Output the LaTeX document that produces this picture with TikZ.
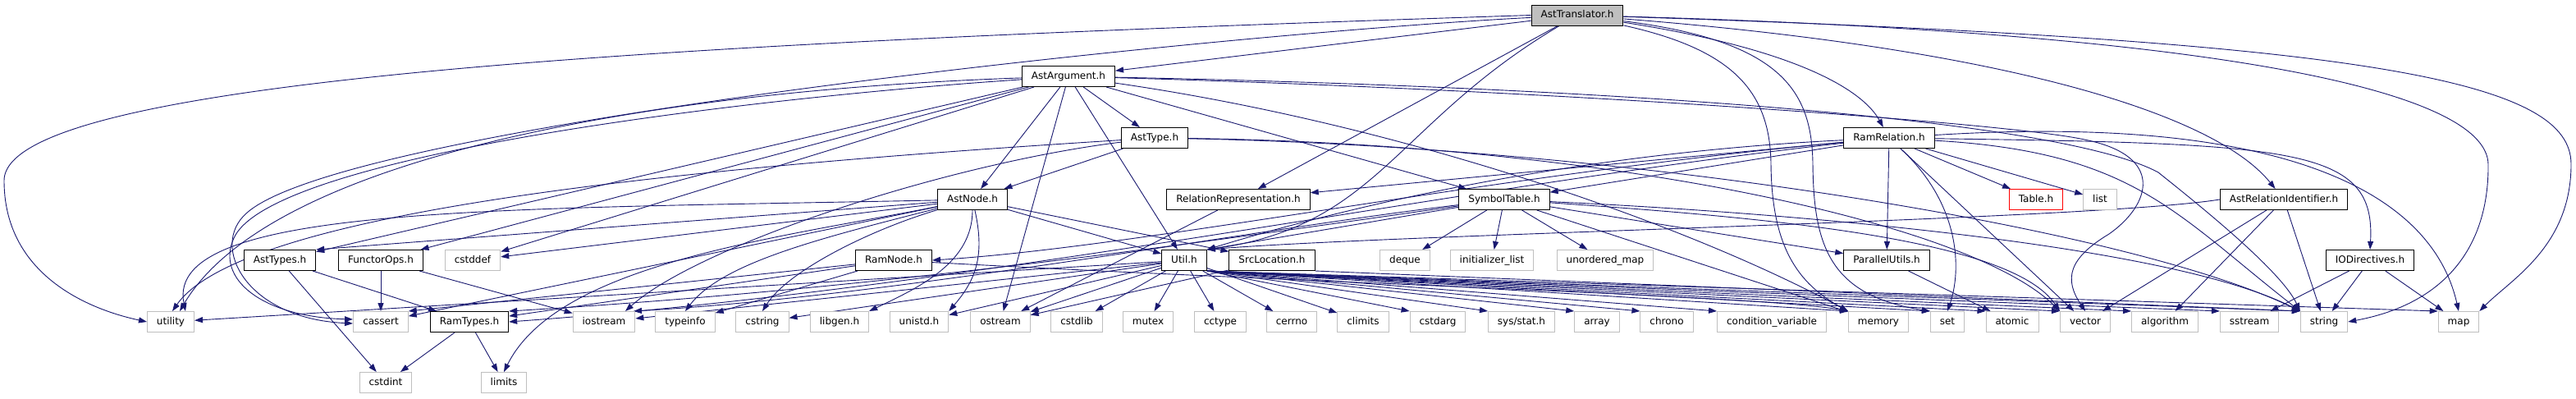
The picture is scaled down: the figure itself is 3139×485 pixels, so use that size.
\documentclass[tikz,border=0pt]{standalone}
\usepackage{fontspec}
\setmainfont{DejaVu Sans}
\usetikzlibrary{arrows.meta,calc}
\definecolor{edgec}{HTML}{191970}
\definecolor{greyb}{HTML}{BFBFBF}
\pgfdeclarelayer{bg}
\pgfsetlayers{bg,main}
\tikzset{
  nd/.style={rectangle, minimum height=25pt, inner xsep=11.5pt, inner ysep=0pt,
    text height=9pt, text depth=2.5pt, font=\fontsize{12}{14}\selectfont,
    fill=white, line width=1pt},
  inc/.style={nd, draw=black},
  sys/.style={nd, draw=greyb},
  root/.style={nd, draw=black, fill=greyb},
  trunc/.style={nd, draw=red},
  e/.style={draw=edgec, line width=0.9pt, -{Triangle[length=10pt,width=7pt]}}
}
\begin{document}
\begin{tikzpicture}[x=1pt,y=-1pt]
\useasboundingbox (0,0) rectangle (3139,485);
% rank 0-3
\node[root] (T) at (1922,18.5) {AstTranslator.h};
\node[inc] (AA) at (1302,93) {AstArgument.h};
\node[inc] (AT) at (1407,168) {AstType.h};
\node[inc] (RR) at (2302,168) {RamRelation.h};
\node[inc] (AN) at (1185,243) {AstNode.h};
\node[inc] (RRep) at (1509,243) {RelationRepresentation.h};
\node[inc] (ST) at (1833,243) {SymbolTable.h};
\node[trunc] (Tab) at (2481,243) {Table.h};
\node[sys] (lst) at (2559,243) {list};
\node[inc] (ARI) at (2783,243) {AstRelationIdentifier.h};
% rank 4
\node[inc] (ATs) at (341,317) {AstTypes.h};
\node[inc] (FO) at (464,317) {FunctorOps.h};
\node[sys] (cstddef) at (576,317) {cstddef};
\node[inc] (RN) at (1089,317) {RamNode.h};
\node[inc] (U) at (1443,317) {Util.h};
\node[inc] (SL) at (1550,317) {SrcLocation.h};
\node[sys] (deque) at (1712,317) {deque};
\node[sys] (ilist) at (1818,317) {initializer\_list};
\node[sys] (umap) at (1956,317) {unordered\_map};
\node[inc] (PU) at (2299,317) {ParallelUtils.h};
\node[inc] (IOD) at (2888,317) {IODirectives.h};
% rank 5
\node[sys] (utility) at (208,392) {utility};
\node[sys] (cassert) at (464,392) {cassert};
\node[inc] (RT) at (572,392) {RamTypes.h};
\node[sys] (iostream) at (736,392) {iostream};
\node[sys] (typeinfo) at (835,392) {typeinfo};
\node[sys] (cstring) at (929,392) {cstring};
\node[sys] (libgen) at (1023,392) {libgen.h};
\node[sys] (unistd) at (1120,392) {unistd.h};
\node[sys] (ostream) at (1219,392) {ostream};
\node[sys] (cstdlib) at (1312,392) {cstdlib};
\node[sys] (mutex) at (1399,392) {mutex};
\node[sys] (cctype) at (1487,392) {cctype};
\node[sys] (cerrno) at (1574,392) {cerrno};
\node[sys] (climits) at (1661,392) {climits};
\node[sys] (cstdarg) at (1752,392) {cstdarg};
\node[sys] (sysstat) at (1854,392) {sys/stat.h};
\node[sys] (array) at (1946,392) {array};
\node[sys] (chrono) at (2031,392) {chrono};
\node[sys] (condvar) at (2159,392) {condition\_variable};
\node[sys] (memory) at (2289,392) {memory};
\node[sys] (set) at (2373,392) {set};
\node[sys] (atomic) at (2452,392) {atomic};
\node[sys] (vector) at (2541,392) {vector};
\node[sys] (algorithm) at (2638,392) {algorithm};
\node[sys] (sstream) at (2741,392) {sstream};
\node[sys] (string) at (2832,392) {string};
\node[sys] (map) at (2996,392) {map};
% rank 6
\node[sys] (cstdint) at (470,466) {cstdint};
\node[sys] (limits) at (614,466) {limits};

\begin{pgfonlayer}{bg}
\fill[white] (0,0) rectangle (3139,485);
% AstTranslator.h
\draw[e] (T) -- (AA);
\draw[e] (T) .. controls (2190,60) and (2270,110) .. (RR);
\draw[e] (T) .. controls (2450,60) and (2700,140) .. (ARI);
\draw[e] (T) -- (RRep);
\draw[e] (T) .. controls (1700,150) and (1680,275) .. (U.north east);
\draw[e] (T) .. controls (2110,60) and (2157,110) .. (2158,200) .. controls (2159,300) and (2190,345) .. (memory.north west);
\draw[e] (T) .. controls (2170,50) and (2208,110) .. (2209,200) .. controls (2210,300) and (2230,360) .. (set.north west);
\draw[e] (T) .. controls (2700,40) and (3030,110) .. (3032,200) .. controls (3033,300) and (2980,370) .. (string.east);
\draw[e] (T) .. controls (2900,50) and (3133,100) .. (3133,200) .. controls (3133,300) and (3060,340) .. (map.north east);
\draw[e] (T.west) .. controls (900,50) and (5,90) .. (5,220) .. controls (5,330) and (100,375) .. (utility.west);
\draw[e] (T) .. controls (1500,40) and (420,150) .. (300,260) .. controls (255,300) and (300,388) .. (430,394);
% AstArgument.h
\draw[e] (AA) -- (AN);
\draw[e] (AA) -- (AT);
\draw[e] (AA) -- (ATs);
\draw[e] (AA) -- (FO);
\draw[e] (AA) -- (cstddef);
\draw[e] (AA) -- (ST);
\draw[e] (AA) -- (U);
\draw[e] (AA) -- (ostream);
\draw[e] (AA) .. controls (900,120) and (330,190) .. (285,290) .. controls (262,340) and (320,386) .. (430,389);
\draw[e] (AA) .. controls (800,110) and (330,190) .. (219,379);
\draw[e] (AA) .. controls (1700,150) and (2050,270) .. (memory.north west);
\draw[e] (AA) .. controls (1900,110) and (2450,150) .. (2540,170) .. controls (2640,190) and (2620,250) .. (2570,285) .. controls (2520,315) and (2515,340) .. (vector.north);
\draw[e] (AA) .. controls (1900,105) and (2500,140) .. (2630,210) .. controls (2680,250) and (2780,330) .. (string.north west);
% AstType.h
\draw[e] (AT) -- (AN);
\draw[e] (AT) .. controls (900,200) and (300,250) .. (210,379);
\draw[e] (AT) .. controls (1150,200) and (850,300) .. (762,379);
\draw[e] (AT) .. controls (2000,180) and (2600,280) .. (string.north west);
\draw[e] (AT) .. controls (1950,175) and (2400,270) .. (vector.north west);
% AstNode.h
\draw[e] (AN) -- (ATs.north east);
\draw[e] (AN) -- (cstddef);
\draw[e] (AN) .. controls (600,255) and (200,250) .. (226,379);
\draw[e] (AN) -- (cassert);
\draw[e] (AN) .. controls (1000,290) and (880,320) .. (typeinfo.north);
\draw[e] (AN) .. controls (1060,280) and (960,330) .. (cstring.north);
\draw[e] (AN) .. controls (1185,320) and (1120,350) .. (libgen.north east);
\draw[e] (AN) .. controls (1200,310) and (1190,340) .. (unistd.north east);
\draw[e] (AN) .. controls (950,290) and (680,320) .. (limits.north);
\draw[e] (AN) -- (SL);
\draw[e] (AN) -- (U);
% RamRelation.h
\draw[e] (RR) -- (RRep);
\draw[e] (RR) -- (ST);
\draw[e] (RR) -- (Tab);
\draw[e] (RR) -- (lst);
\draw[e] (RR) -- (PU);
\draw[e] (RR) .. controls (2800,175) and (2895,180) .. (IOD.north);
\draw[e] (RR) .. controls (1950,185) and (1680,240) .. (U.north east);
\draw[e] (RR) .. controls (1800,215) and (1400,300) .. (RN.east);
\draw[e] (RR) .. controls (1750,230) and (1200,350) .. (RT.east);
\draw[e] (RR) .. controls (2390,250) and (2390,330) .. (set.north);
\draw[e] (RR) -- (vector);
\draw[e] (RR) .. controls (2600,185) and (2650,260) .. (string.north west);
\draw[e] (RR) .. controls (2750,140) and (2960,220) .. (map.north);
% RelationRepresentation.h
\draw[e] (RRep) -- (ostream);
% SymbolTable.h
\draw[e] (ST) -- (deque);
\draw[e] (ST) -- (ilist);
\draw[e] (ST) -- (umap);
\draw[e] (ST) -- (PU);
\draw[e] (ST) -- (U.north east);
\draw[e] (ST) .. controls (1500,290) and (1100,350) .. (RT.north east);
\draw[e] (ST) .. controls (1520,280) and (1100,360) .. (772,379);
\draw[e] (ST) .. controls (2200,260) and (2650,300) .. (string.north west);
\draw[e] (ST) .. controls (2150,265) and (2450,290) .. (vector.north west);
\draw[e] (ST) -- (memory);
% RamNode.h
\draw[e] (RN) -- (RT);
\draw[e] (RN) -- (cassert.north east);
\draw[e] (RN) -- (typeinfo);
\draw[e] (RN) .. controls (1600,345) and (2150,360) .. (memory.north west);
% Util.h
\draw[e] (U) -- (utility);
\draw[e] (U) -- (iostream);
\draw[e] (U) -- (cstring);
\draw[e] (U) -- (unistd);
\draw[e] (U) -- (ostream);
\draw[e] (U) -- (cstdlib);
\draw[e] (U) -- (mutex);
\draw[e] (U) -- (cctype);
\draw[e] (U) -- (cerrno);
\draw[e] (U) -- (climits);
\foreach \t in {cstdarg,sysstat,array,chrono,condvar,memory,set,atomic,vector,algorithm,sstream,string,map}
  \draw[e] (U.south east) -- (\t.north west);
% SrcLocation.h
\draw[e] (SL) -- (ostream);
\draw[e] (SL.south east) -- (string.north west);
% ParallelUtils.h
\draw[e] (PU) -- (atomic);
% AstRelationIdentifier.h
\draw[e] (ARI.west) .. controls (2550,268) and (1700,285) .. (U.north east);
\draw[e] (ARI) -- (vector);
\draw[e] (ARI) -- (algorithm);
\draw[e] (ARI) -- (string);
% IODirectives.h
\draw[e] (IOD) -- (sstream);
\draw[e] (IOD) -- (string);
\draw[e] (IOD) -- (map);
% FunctorOps.h, AstTypes.h, RamTypes.h
\draw[e] (FO) -- (cassert);
\draw[e] (FO) -- (iostream);
\draw[e] (ATs) -- (RT);
\draw[e] (ATs) -- (cstdint);
\draw[e] (RT) -- (cstdint);
\draw[e] (RT) -- (limits);
\end{pgfonlayer}
\end{tikzpicture}
\end{document}
